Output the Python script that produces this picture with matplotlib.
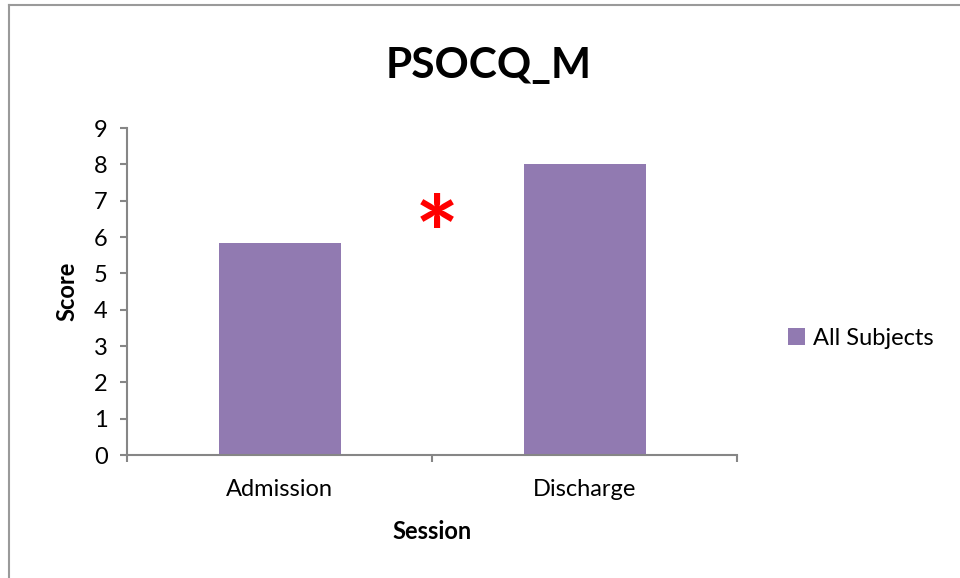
import matplotlib
matplotlib.use('Agg')
import matplotlib.pyplot as plt
from matplotlib.lines import Line2D

sessions = ['Admission', 'Discharge']
scores = [5.83, 8.02]
series_name = 'All Subjects'
title = 'PSOCQ_M'
star_pos = (0.515, 5.9)

bar_color = '#917AB1'
axis_color = '#868686'

plt.rcParams['font.family'] = ['Lato', 'DejaVu Sans']

fig = plt.figure(figsize=(9.6, 5.78), dpi=100)
ax = fig.add_axes([0.1323, 0.2128, 0.768 - 0.1323, 0.7785 - 0.2128])

x = range(len(sessions))
ax.bar(x, scores, width=0.4, color=bar_color, label=series_name, zorder=2)

ax.set_xlim(-0.5, len(sessions) - 0.5)
ax.set_ylim(0, 9)
ax.set_yticks(range(10))
# category boundaries carry the tick marks, centres carry the labels
ax.set_xticks([k - 0.5 for k in range(len(sessions) + 1)])
ax.set_xticklabels([])
ax.set_xticks(list(x), minor=True)
ax.set_xticklabels(sessions, minor=True)

for side in ['top', 'right']:
    ax.spines[side].set_visible(False)
for side in ['left', 'bottom']:
    ax.spines[side].set_color(axis_color)
    ax.spines[side].set_linewidth(1.5)

ax.tick_params(axis='y', which='major', direction='out', length=5, width=1.5,
               color=axis_color, labelsize=17, pad=9)
ax.tick_params(axis='x', which='major', direction='out', length=5, width=1.5,
               color=axis_color)
ax.tick_params(axis='x', which='minor', length=0, labelsize=17, pad=17)

ax.set_ylabel('Score', fontsize=17, fontweight='bold', labelpad=11)
ax.set_xlabel('Session', fontsize=17, fontweight='bold', labelpad=15)
fig.text(0.509, 0.885, title, fontsize=30.5, fontweight='bold', ha='center', va='center')

ax.text(star_pos[0], star_pos[1], '*', color='red', fontsize=75, fontweight='bold',
        ha='center', va='center')

ax.legend(loc='center left', bbox_to_anchor=(0.821, 0.415), bbox_transform=fig.transFigure,
          frameon=False, fontsize=17, handlelength=0.7, handleheight=0.7, handletextpad=0.35,
          borderpad=0, borderaxespad=0)

# chart area border (top and left edges)
fig.add_artist(Line2D([0.009, 0.009], [0, 0.992], transform=fig.transFigure,
                      color='#9a9a9a', linewidth=1.5))
fig.add_artist(Line2D([0.009, 1], [0.992, 0.992], transform=fig.transFigure,
                      color='#9a9a9a', linewidth=1.5))

fig.savefig('out.png', dpi=100)
